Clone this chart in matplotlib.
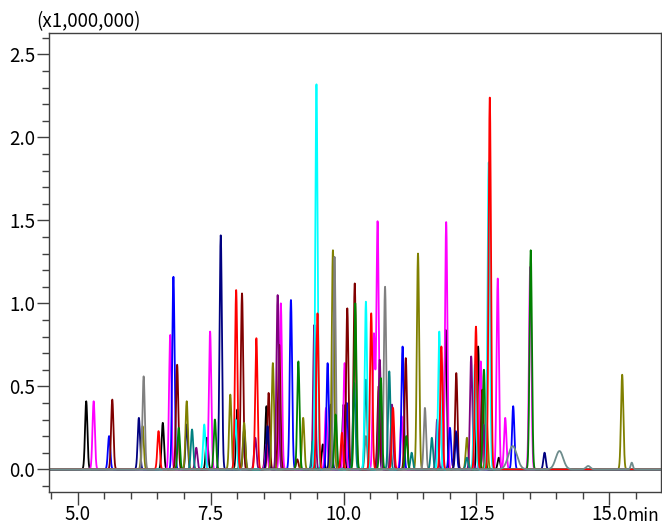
import numpy as np
import matplotlib
matplotlib.use("Agg")
import matplotlib.pyplot as plt
from matplotlib.ticker import MultipleLocator, FormatStrFormatter

# ---- data: retention times (min) and peak heights (x1,000,000) per trace ----
black_rt = [5.16, 6.60, 7.43, 8.00, 8.55, 9.61, 10.00, 11.92, 12.53, 12.92]
black_h = [0.41, 0.28, 0.19, 0.36, 0.38, 0.15, 0.39, 0.84, 0.74, 0.07]

magenta_rt = [5.30, 6.74, 7.49, 8.55, 8.82, 9.67, 10.02, 10.57, 10.64, 11.09, 11.93, 12.58, 12.90, 13.04, 13.51]
magenta_h = [0.41, 0.81, 0.83, 0.15, 1.00, 0.37, 0.64, 0.81, 1.49, 0.32, 1.49, 0.65, 1.15, 0.31, 1.22]

blue_rt = [5.59, 6.80, 9.01, 9.70, 10.06, 10.66, 11.11, 12.00, 12.11, 13.19]
blue_h = [0.20, 1.16, 1.02, 0.64, 0.40, 0.31, 0.74, 0.25, 0.23, 0.38]

maroon_rt = [5.65, 6.87, 8.09, 8.59, 8.79, 9.13, 10.07, 10.21, 10.66, 11.17, 12.12, 12.61]
maroon_h = [0.42, 0.63, 1.06, 0.46, 0.75, 0.06, 0.97, 1.12, 0.50, 0.67, 0.58, 0.48]

navy_rt = [6.15, 7.05, 7.69, 8.13, 8.57, 9.76, 12.12, 13.78]
navy_h = [0.31, 0.27, 1.41, 0.24, 0.26, 0.39, 0.22, 0.10]

olive_rt = [6.22, 7.05, 7.87, 8.13, 8.67, 9.24, 9.80, 11.40, 12.32, 12.69, 15.24]
olive_h = [0.26, 0.41, 0.45, 0.28, 0.64, 0.31, 1.32, 1.30, 0.19, 0.30, 0.57]

gray_rt = [6.24, 9.83, 10.42, 10.78, 11.53]
gray_h = [0.56, 1.28, 0.20, 1.10, 0.37]

red_rt = [6.52, 7.98, 8.36, 9.51, 9.97, 10.52, 10.93, 11.84, 12.49, 12.75]
red_h = [0.23, 1.08, 0.79, 0.94, 0.22, 0.94, 0.37, 0.74, 0.86, 2.24]

green_rt = [6.90, 7.58, 9.15, 9.85, 10.22, 10.70, 11.18, 12.64, 13.52]
green_h = [0.25, 0.30, 0.65, 0.33, 1.00, 0.55, 0.20, 0.60, 1.32]

purple_rt = [7.23, 8.34, 8.76, 9.45, 10.68, 10.91, 11.76, 12.40, 12.63]
purple_h = [0.13, 0.19, 1.05, 0.87, 0.66, 0.39, 0.30, 0.68, 0.27]

teal_rt = [7.15, 9.42, 10.20, 10.42, 10.86, 11.28, 11.66, 12.32]
teal_h = [0.24, 0.17, 0.52, 0.54, 0.59, 0.10, 0.19, 0.07]

cyan_rt = [7.38, 7.97, 9.49, 10.42, 11.80, 12.47, 12.73]
cyan_h = [0.27, 0.30, 2.32, 1.01, 0.83, 0.63, 1.85]

slate_rt = [13.18, 14.06, 14.60, 15.42]
slate_h = [0.14, 0.11, 0.02, 0.04]
slate_w = [0.08, 0.07, 0.04, 0.02]

x_ticks = [5.0, 7.5, 10.0, 12.5, 15.0]
y_ticks = [0.0, 0.5, 1.0, 1.5, 2.0, 2.5]

traces = [
    (black_rt, black_h, None, "black"),
    (magenta_rt, magenta_h, None, "#ff00ff"),
    (blue_rt, blue_h, None, "#0000ff"),
    (maroon_rt, maroon_h, None, "#800000"),
    (navy_rt, navy_h, None, "#000080"),
    (olive_rt, olive_h, None, "#808000"),
    (gray_rt, gray_h, None, "#808080"),
    (purple_rt, purple_h, None, "#800080"),
    (teal_rt, teal_h, None, "#008080"),
    (green_rt, green_h, None, "#008000"),
    (cyan_rt, cyan_h, None, "#00ffff"),
    (red_rt, red_h, None, "#ff0000"),
    (slate_rt, slate_h, slate_w, "#6e8c8c"),
]

plt.rcParams['font.family'] = ['Noto Sans CJK JP', 'DejaVu Sans']

fig = plt.figure(figsize=(6.62, 5.25), dpi=100)
ax = fig.add_axes([49 / 662, 1 - 491.7 / 525, (661 - 49) / 662, (491.7 - 33.3) / 525])

x = np.linspace(4.46, 15.97, 8000)
default_sigma = 0.022
for rts, hs, ws, col in traces:
    y = np.zeros_like(x)
    for i, (rt, h) in enumerate(zip(rts, hs)):
        s = ws[i] if ws is not None else default_sigma
        y += h * np.exp(-0.5 * ((x - rt) / s) ** 2)
    ax.plot(x, y, color=col, lw=1.3, solid_joinstyle='round')

ax.set_xlim(4.46, 15.97)
ax.set_ylim(-0.135, 2.627)
ax.set_xticks(x_ticks)
ax.set_yticks(y_ticks)
ax.xaxis.set_minor_locator(MultipleLocator(0.5))
ax.yaxis.set_minor_locator(MultipleLocator(0.1))
ax.xaxis.set_major_formatter(FormatStrFormatter('%.1f'))
ax.yaxis.set_major_formatter(FormatStrFormatter('%.1f'))

spine_col = '#404040'
for sp in ax.spines.values():
    sp.set_color(spine_col)
    sp.set_linewidth(1.0)
ax.tick_params(axis='both', which='major', length=9, width=1.0, color=spine_col,
               labelsize=13.5, labelcolor='black')
ax.tick_params(axis='both', which='minor', length=5, width=1.0, color=spine_col)
ax.tick_params(axis='x', which='major', pad=0)
ax.tick_params(axis='y', which='major', pad=1)

fig.text(36 / 662, 1 - 22 / 525, "(x1,000,000)", fontsize=13.5, va='center', ha='left')
fig.text(627 / 662, 1 - 516 / 525, "min", fontsize=12.5, va='center', ha='left')

fig.savefig("out.png", dpi=100)
